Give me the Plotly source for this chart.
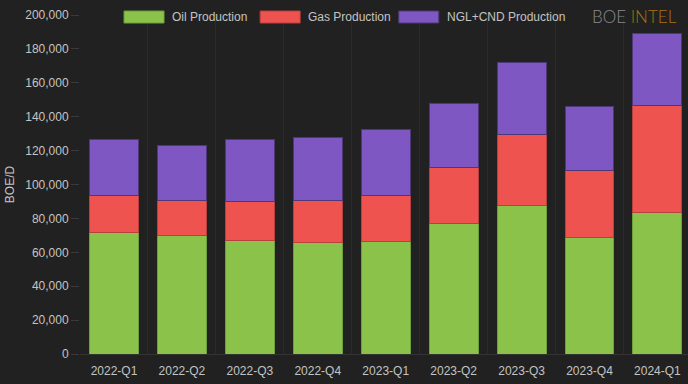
import plotly.graph_objects as go

quarters = ["2022-Q1", "2022-Q2", "2022-Q3", "2022-Q4", "2023-Q1",
            "2023-Q2", "2023-Q3", "2023-Q4", "2024-Q1"]
oil = [71500, 69700, 66800, 66000, 66400, 76800, 87400, 69000, 83500]
gas = [21800, 20900, 23000, 24600, 27300, 33200, 41900, 39500, 62900]
ngl = [33000, 32400, 36700, 37300, 38700, 37500, 42600, 37500, 42600]
y_ticks = [0, 20000, 40000, 60000, 80000, 100000, 120000, 140000, 160000, 180000, 200000]

series = [
    ("Oil Production", oil, "#8bc34a", "#6f9e3c"),
    ("Gas Production", gas, "#ef5350", "#b8403e"),
    ("NGL+CND Production", ngl, "#7e57c2", "#4e3878"),
]

BG = "#212121"
TXT = "#c4c4c4"
FONT = "Liberation Sans, Arial, sans-serif"

fig = go.Figure()
for name, vals, col, edge in series:
    fig.add_trace(go.Bar(x=quarters, y=vals, name=name,
                         marker=dict(color=col, line=dict(color=edge, width=1)),
                         showlegend=False))

# custom legend (wide swatches)
legend_items = [(0.0724, "Oil Production"), (0.2963, "Gas Production"), (0.5243, "NGL+CND Production")]
for (x0, name), (_, _, col, edge) in zip(legend_items, series):
    fig.add_shape(type="rect", xref="paper", yref="paper",
                  x0=x0, x1=x0 + 40 / 608, y0=1.0 + (15 - 23) / 339, y1=1.0 + (15 - 11) / 339,
                  fillcolor=col, line=dict(color=edge, width=1))
    fig.add_annotation(xref="paper", yref="paper", x=x0 + 46 / 608, y=1.0 + (15 - 17) / 339,
                       text=name, showarrow=False, xanchor="left", yanchor="middle",
                       font=dict(family=FONT, size=12, color=TXT))

# brand mark
fig.add_annotation(xref="paper", yref="paper", x=(590 - 80) / 608, y=1.0 + (15 - 16) / 339,
                   text="<span style='color:#8a8a8a'>BOE</span> <span style='color:#a8730f'>INTEL</span>",
                   showarrow=False, xanchor="left", yanchor="middle",
                   font=dict(family="Lato, Open Sans, sans-serif", size=17, weight=300))

fig.update_layout(
    barmode="stack",
    bargap=0.28,
    width=688, height=384,
    margin=dict(l=80, r=0, t=15, b=30, autoexpand=False),
    paper_bgcolor=BG, plot_bgcolor=BG,
    font=dict(family=FONT, size=12, color=TXT),
    xaxis=dict(range=[-0.5, 8.45], tickson="boundaries", showgrid=True,
               gridcolor="#2a2a2a", gridwidth=1, ticks="", ticklabelstandoff=6,
               showline=True,
               linecolor="#333333", tickfont=dict(size=12, color=TXT), zeroline=False,
               automargin=False),
    yaxis=dict(range=[0, 200000], tickvals=y_ticks, tickformat=",d", showgrid=False,
               ticks="outside", ticklen=8, tickcolor="#3a3a3a", zeroline=False,
               title=dict(text="BOE/D", font=dict(size=12, color=TXT), standoff=8),
               tickfont=dict(size=12, color=TXT), automargin=False),
    yaxis2=dict(overlaying="y", range=[0, 10.51], dtick=1, showgrid=True,
                gridcolor="#2a2a2a", showticklabels=False, zeroline=False, ticks=""),
)

fig.write_html("out.html", config={"displayModeBar": False},
               post_script="document.body.style.margin='0px';document.body.style.overflow='hidden';")
